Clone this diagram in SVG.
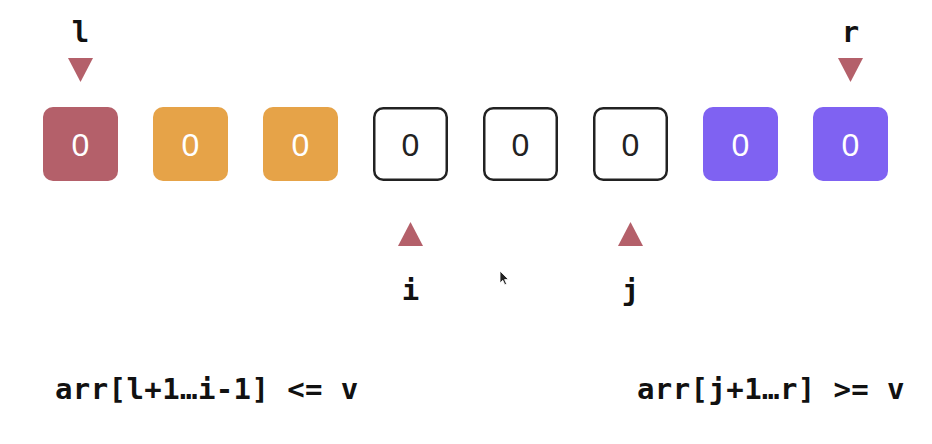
<svg xmlns="http://www.w3.org/2000/svg" width="932" height="444" viewBox="0 0 932 444">
  <style>
    .cell { stroke: none; }
    .red { fill: #B4606A; }
    .orange { fill: #E6A348; }
    .purple { fill: #7F62F2; }
    .outline { fill: #FFFFFF; stroke: #222222; stroke-width: 2.5; }
    .val { font-family: "Liberation Sans", Arial, sans-serif; font-size: 32px; text-anchor: middle; }
    .valw { fill: #FFFFFF; }
    .vald { fill: #222222; }
    .ptr { fill: #B4606A; }
    .lbl { font-family: "DejaVu Sans Mono", "Liberation Mono", monospace; font-weight: bold; font-size: 29px; fill: #111111; text-anchor: middle; }
    .cond { font-family: "DejaVu Sans Mono", "Liberation Mono", monospace; font-weight: bold; font-size: 29px; fill: #111111; letter-spacing: 0.4px; }
  </style>
  <rect width="932" height="444" fill="#FFFFFF"/>

  <g id="cell0"><rect class="cell red" x="43" y="107" width="75" height="74" rx="10"/><text class="val valw" x="80.5" y="156">0</text></g>
  <g id="cell1"><rect class="cell orange" x="153" y="107" width="75" height="74" rx="10"/><text class="val valw" x="190.5" y="156">0</text></g>
  <g id="cell2"><rect class="cell orange" x="263" y="107" width="75" height="74" rx="10"/><text class="val valw" x="300.5" y="156">0</text></g>
  <g id="cell3"><rect class="outline" x="374.25" y="108.25" width="72.5" height="71.5" rx="9"/><text class="val vald" x="410.5" y="156">0</text></g>
  <g id="cell4"><rect class="outline" x="484.25" y="108.25" width="72.5" height="71.5" rx="9"/><text class="val vald" x="520.5" y="156">0</text></g>
  <g id="cell5"><rect class="outline" x="594.25" y="108.25" width="72.5" height="71.5" rx="9"/><text class="val vald" x="630.5" y="156">0</text></g>
  <g id="cell6"><rect class="cell purple" x="703" y="107" width="75" height="74" rx="10"/><text class="val valw" x="740.5" y="156">0</text></g>
  <g id="cell7"><rect class="cell purple" x="813" y="107" width="75" height="74" rx="10"/><text class="val valw" x="850.5" y="156">0</text></g>

  <g id="ptr-l"><text class="lbl" x="80.5" y="42">l</text><polygon class="ptr" points="68,58 93,58 80.5,82"/></g>
  <g id="ptr-r"><text class="lbl" x="850.5" y="42">r</text><polygon class="ptr" points="838,58 863,58 850.5,82"/></g>
  <g id="ptr-i"><polygon class="ptr" points="398,246 423,246 410.5,222"/><text class="lbl" x="410.5" y="300">i</text></g>
  <g id="ptr-j"><polygon class="ptr" points="618,246 643,246 630.5,222"/><text class="lbl" x="630.5" y="300">j</text></g>

  <g id="connectors"></g>

  <g id="cond-left"><text class="cond" x="55" y="399">arr[l+1…i-1] &lt;= v</text></g>
  <g id="cond-right"><text class="cond" x="637" y="399">arr[j+1…r] &gt;= v</text></g>

  <path d="M500,271 L500,283 L502.8,280.3 L504.8,284.8 L506.6,284 L504.6,279.6 L508.4,279.4 Z" fill="#222222" stroke="#FFFFFF" stroke-width="0.8"/>
</svg>
